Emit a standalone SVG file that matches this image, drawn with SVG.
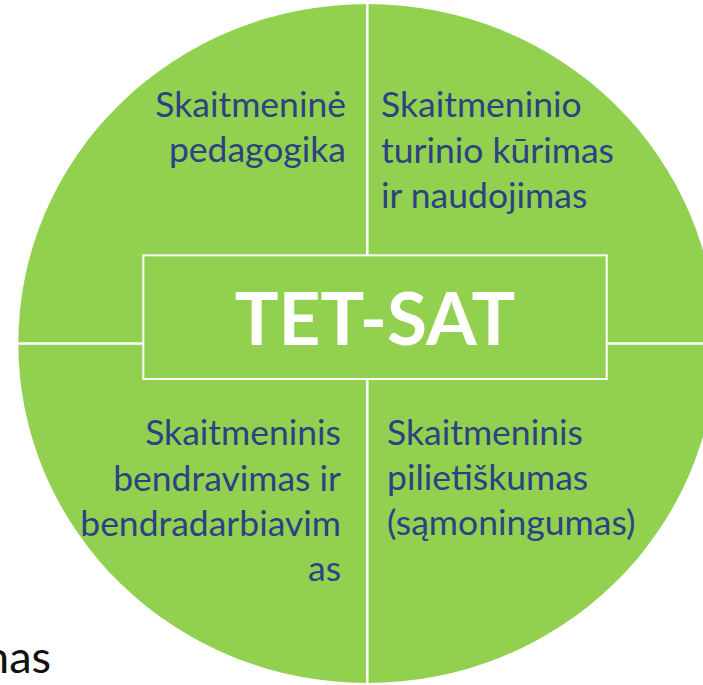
<svg xmlns="http://www.w3.org/2000/svg" width="703" height="685" viewBox="0 0 703 685">
  <style>
    .q { font-family: Lato, "Liberation Sans", sans-serif; font-size: 35.5px; fill: #2C4282; }
    .title { font-family: Lato, "Liberation Sans", sans-serif; font-size: 73px; font-weight: bold; fill: #FFFFFF; }
    .bg { font-family: Lato, "Liberation Sans", sans-serif; font-size: 45px; fill: #111111; }
    .gap { stroke: #FFFFFF; stroke-width: 2.5; fill: none; }
  </style>
  <rect x="0" y="0" width="703" height="685" fill="#FFFFFF"/>
  <text class="bg" x="51" y="673" text-anchor="end">nas</text>
  <g id="circle">
    <ellipse cx="367.3" cy="343.5" rx="349" ry="339.5" fill="#92D050"/>
  </g>
  <g id="connectors">
    <line class="gap" x1="367.3" y1="0" x2="367.3" y2="255.3"/>
    <line class="gap" x1="367.3" y1="379" x2="367.3" y2="685"/>
    <line class="gap" x1="0" y1="343.6" x2="143.3" y2="343.6"/>
    <line class="gap" x1="606.7" y1="343.6" x2="703" y2="343.6"/>
  </g>
  <g id="q-top-left">
    <text class="q" text-anchor="end"><tspan x="346" y="117">Skaitmeninė</tspan><tspan x="346" y="162">pedagogika</tspan></text>
  </g>
  <g id="q-top-right">
    <text class="q"><tspan x="381" y="117">Skaitmeninio</tspan><tspan x="381" y="163">turinio kūrimas</tspan><tspan x="381" y="208">ir naudojimas</tspan></text>
  </g>
  <g id="q-bottom-left">
    <text class="q" text-anchor="end"><tspan x="341" y="445">Skaitmeninis</tspan><tspan x="341" y="491">bendravimas ir</tspan><tspan x="341" y="536">bendradarbiavim</tspan><tspan x="341" y="581">as</tspan></text>
  </g>
  <g id="q-bottom-right">
    <text class="q"><tspan x="387" y="445">Skaitmeninis</tspan><tspan x="387" y="490">pilietiškumas</tspan><tspan x="387" y="535">(sąmoningumas)</tspan></text>
  </g>
  <g id="center">
    <rect x="143.3" y="255.3" width="463.4" height="123.7" fill="#92D050" stroke="#FFFFFF" stroke-width="2"/>
    <text class="title" x="375" y="345" text-anchor="middle">TET-SAT</text>
  </g>
</svg>
